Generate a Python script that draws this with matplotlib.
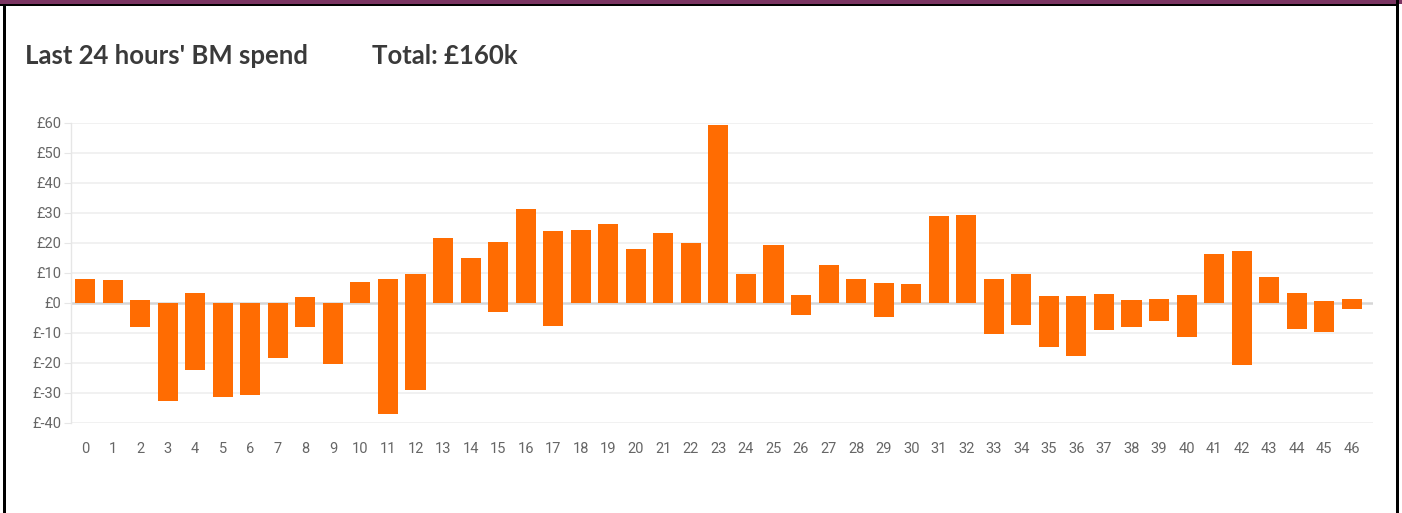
import matplotlib
matplotlib.use("Agg")
import matplotlib.pyplot as plt
from matplotlib.patches import Rectangle
import numpy as np

periods = list(range(47))
positive = [8.1, 7.8, 0.9, 0, 3.3, 0, 0, 0, 2.0, 0, 6.9, 8.0, 9.8, 21.8, 15.0, 20.3,
            31.4, 24.1, 24.3, 26.5, 17.9, 23.2, 19.9, 59.2, 9.7, 19.2, 2.7, 12.7, 7.9,
            6.8, 6.3, 29.1, 29.3, 7.9, 9.7, 2.5, 2.5, 3.0, 0.9, 1.3, 2.8, 16.3, 17.2,
            8.8, 3.2, 0.8, 1.3]
negative = [0, 0, -8.0, -32.5, -22.2, -31.3, -30.6, -18.4, -8.0, -20.2, 0, -36.9, -29.1,
            0, 0, -3.0, 0, -7.8, 0, 0, 0, 0, 0, 0, 0, 0, -4.0, 0, 0, -4.7, 0, 0, 0,
            -10.2, -7.4, -14.6, -17.6, -9.1, -7.9, -6.1, -11.3, 0, -20.7, 0, -8.6,
            -9.8, -2.0]
yticks = [-40, -30, -20, -10, 0, 10, 20, 30, 40, 50, 60]
ytick_labels = ["£" + str(v) for v in yticks]
title_left = "Last 24 hours' BM spend"
title_right = "Total: £160k"

W, H = 1402, 513
fig = plt.figure(figsize=(W / 100, H / 100), dpi=100)
fig.patch.set_facecolor("white")

# frame
fig.patches.append(Rectangle((0, 1 - 4 / H), 1, 4 / H, transform=fig.transFigure,
                             facecolor="#7b3562", edgecolor="none"))
fig.patches.append(Rectangle((0, 1 - 6 / H), 1397 / W, 2 / H, transform=fig.transFigure,
                             facecolor="black", edgecolor="none"))
fig.patches.append(Rectangle((3 / W, 0), 2.5 / W, 1 - 4 / H, transform=fig.transFigure,
                             facecolor="black", edgecolor="none"))
fig.patches.append(Rectangle((1396 / W, 0), 3 / W, 1, transform=fig.transFigure,
                             facecolor="black", edgecolor="none"))

ax = fig.add_axes([71 / W, 90 / H, (1373 - 71) / W, 300 / H])
color = "#ff6c02"
ax.bar(periods, positive, width=0.73, color=color, zorder=3)
ax.bar(periods, negative, width=0.73, color=color, zorder=3)

ax.set_ylim(-40, 60)
ax.set_xlim(-0.51, 46.77)
ax.set_yticks(yticks)
ax.set_yticklabels(ytick_labels)
ax.set_xticks(periods)
ax.set_xticklabels([str(p) for p in periods])

for v in yticks:
    ax.axhline(v, color="#d6d6d6" if v == 0 else "#efefef",
               lw=1.8 if v == 0 else 1.2, zorder=1 if v != 0 else 2)

for s in ["top", "right", "bottom"]:
    ax.spines[s].set_visible(False)
ax.spines["left"].set_color("#e6e6e6")
ax.spines["left"].set_linewidth(1.0)

tick_font = ["Liberation Sans Narrow", "Roboto", "DejaVu Sans"]
ax.tick_params(axis="y", length=5, color="#e6e6e6", pad=2, labelcolor="#666666",
               labelsize=10.5)
ax.tick_params(axis="x", length=0, pad=14, labelcolor="#666666", labelsize=10.5)
for lab in ax.get_yticklabels() + ax.get_xticklabels():
    lab.set_fontfamily(tick_font)

title_font = ["Lato", "DejaVu Sans"]
fig.text(25 / W, 1 - 64 / H, title_left, fontsize=18.5, fontfamily=title_font,
         fontweight="bold", color="#3a3a3a", va="baseline", ha="left")
fig.text(372 / W, 1 - 64 / H, title_right, fontsize=18.5, fontfamily=title_font,
         fontweight="bold", color="#3a3a3a", va="baseline", ha="left")

fig.savefig("out.png", dpi=100, facecolor="white")
